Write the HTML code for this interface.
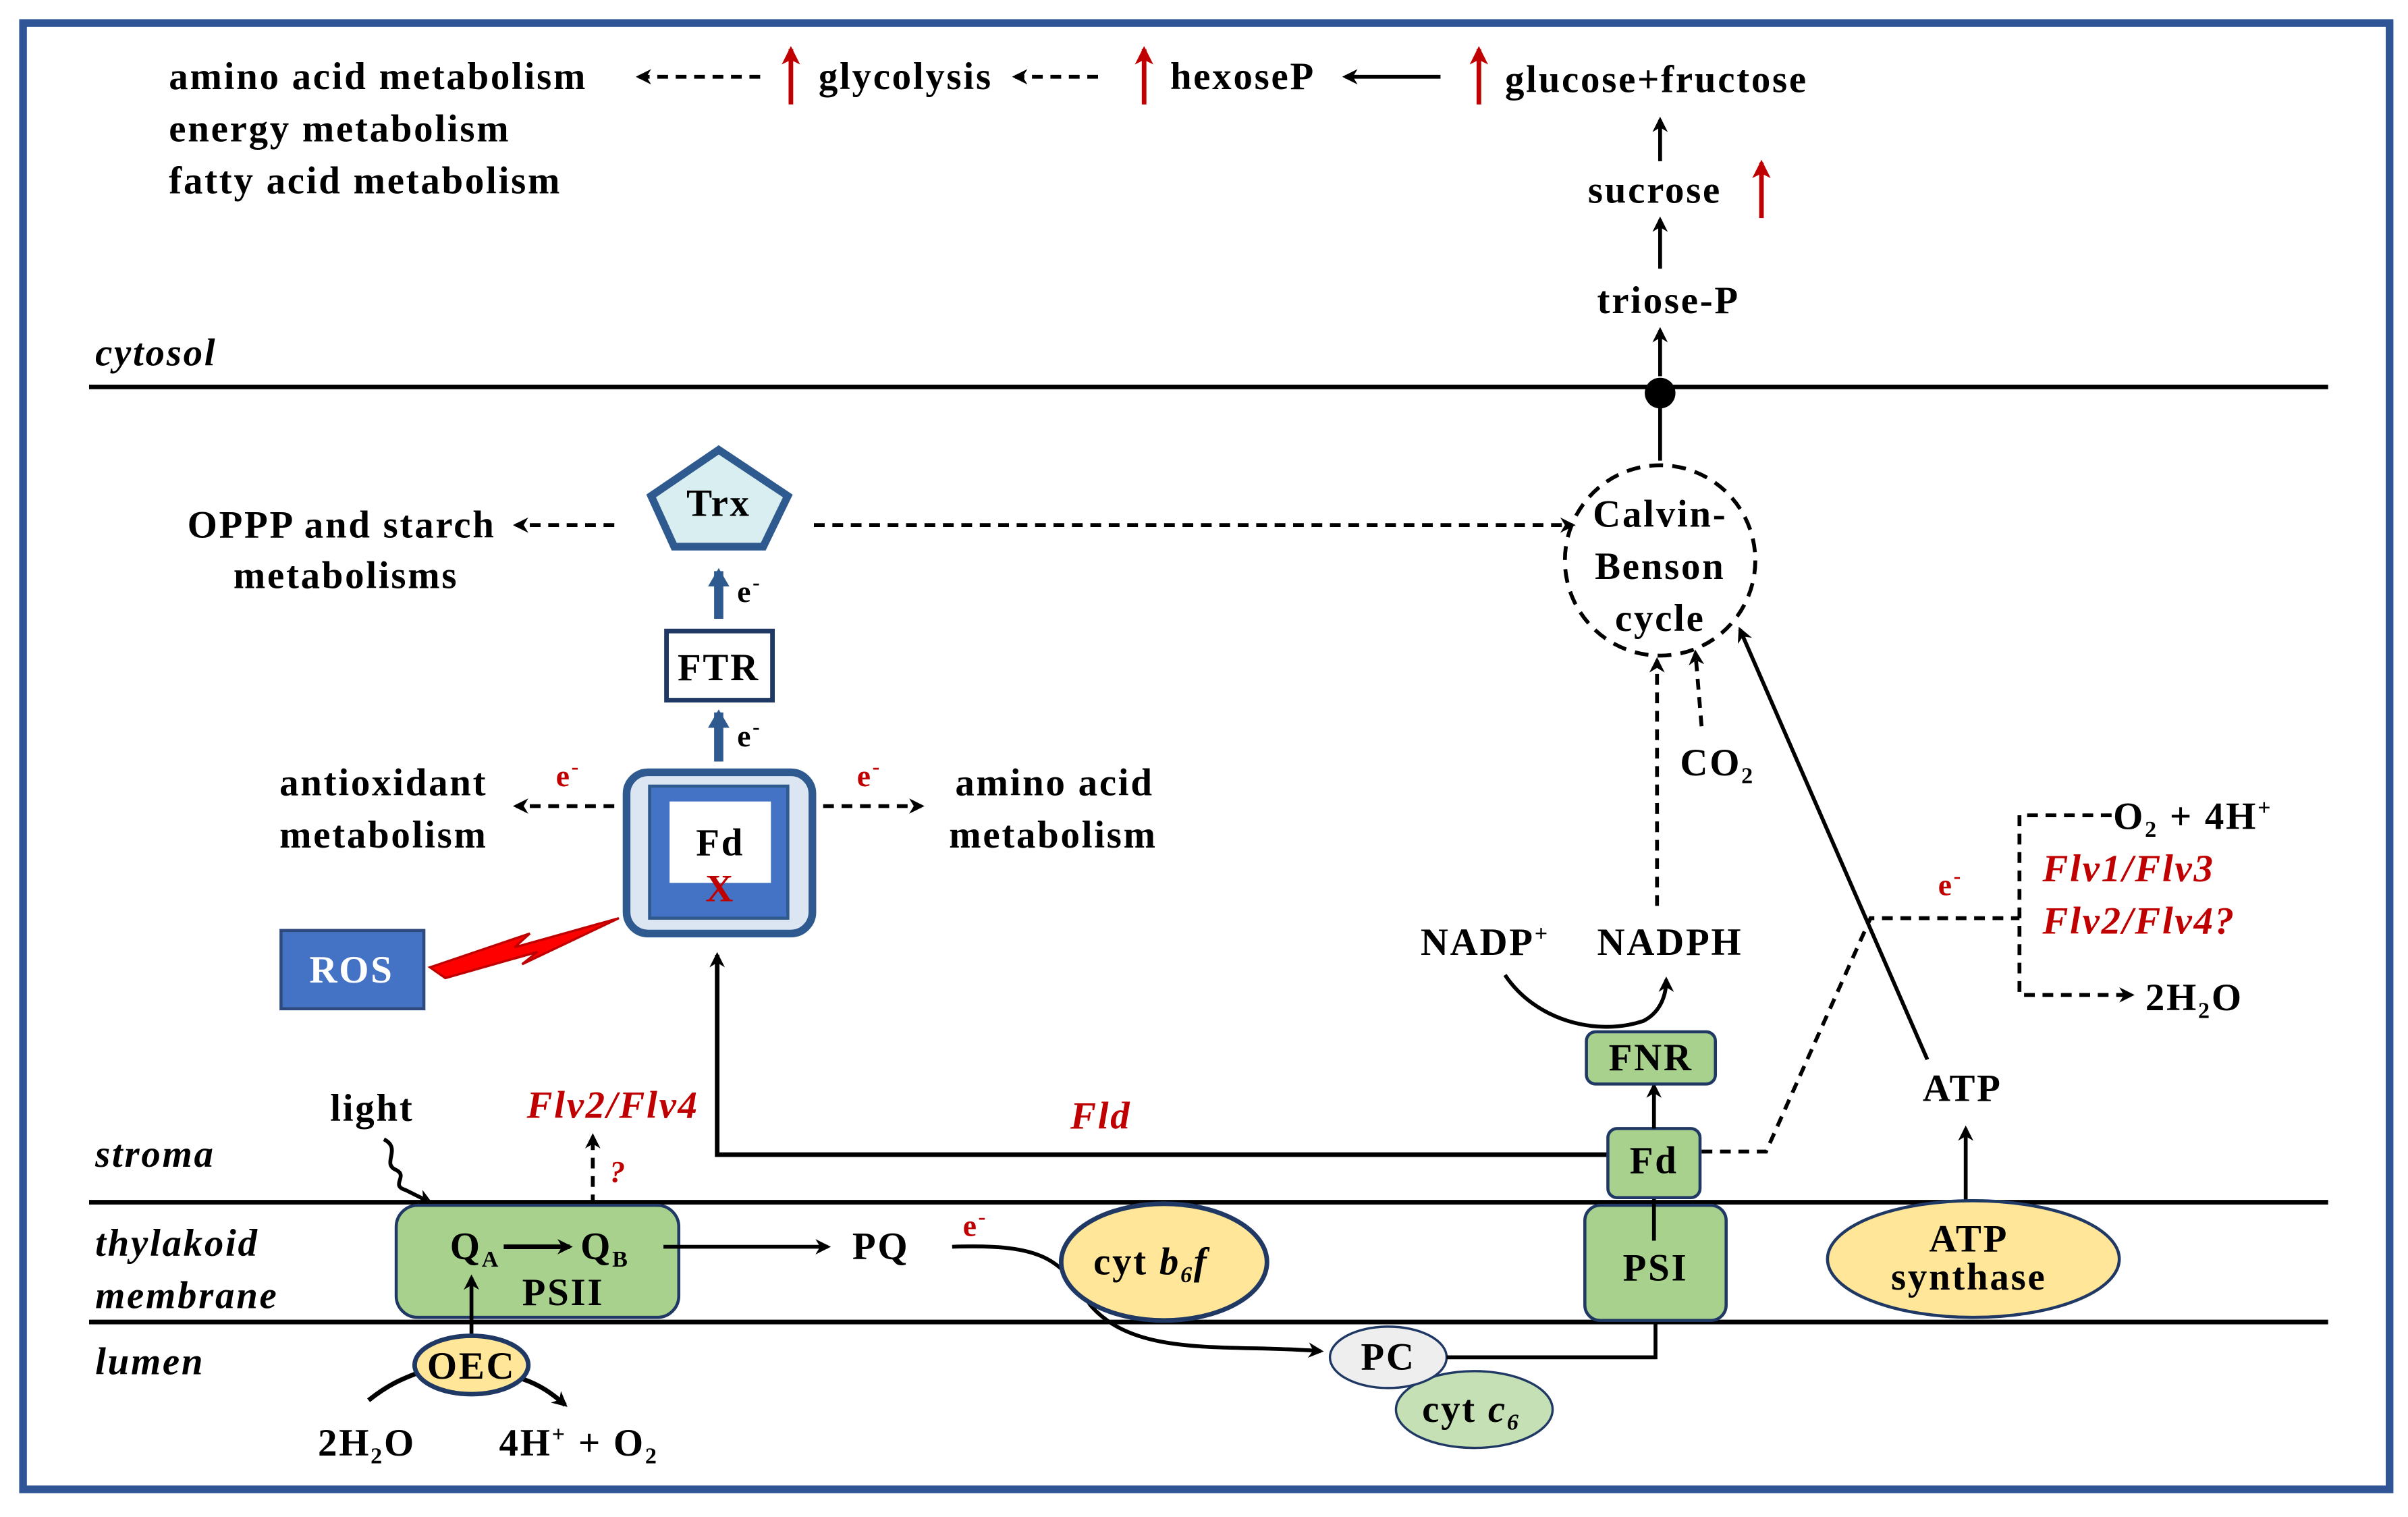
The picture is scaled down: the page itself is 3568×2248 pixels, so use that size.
<!DOCTYPE html>
<html><head><meta charset="utf-8"><style>
html,body{margin:0;padding:0;background:#fff;}
svg{display:block;}
text{font-family:"Liberation Serif",serif;font-weight:bold;font-size:25px;letter-spacing:1.2px;fill:#000;}
.i{font-style:italic;}
.r{fill:#c00000;}
</style></head><body>
<svg width="3568" height="2248" viewBox="0 0 1568 988" preserveAspectRatio="none" xmlns="http://www.w3.org/2000/svg">
<defs>
<marker id="a" markerWidth="10" markerHeight="10" refX="8" refY="5" orient="auto" markerUnits="userSpaceOnUse"><path d="M0,0 L10,5 L0,10 L3,5z" fill="#000"/></marker>
<marker id="ar" markerWidth="12" markerHeight="12" refX="10" refY="6" orient="auto" markerUnits="userSpaceOnUse"><path d="M0,0 L12,6 L0,12 L3,6z" fill="#c00000"/></marker>
<marker id="ab" markerWidth="14" markerHeight="14" refX="10" refY="7" orient="auto" markerUnits="userSpaceOnUse"><path d="M0,0 L12,7 L0,14z" fill="#2e5a8f"/></marker>
</defs>
<rect x="15" y="15" width="1541" height="955" fill="none" stroke="#2f5597" stroke-width="5"/>
<g stroke="#000" stroke-width="3">
<line x1="58" y1="252" x2="1516" y2="252"/>
<line x1="58" y1="783" x2="1516" y2="783"/>
<line x1="58" y1="861" x2="1516" y2="861"/>
</g>
<text class="i" x="62" y="238">cytosol</text>
<text class="i" x="62" y="760">stroma</text>
<text class="i" x="62" y="818">thylakoid</text>
<text class="i" x="62" y="852">membrane</text>
<text class="i" x="62" y="895">lumen</text>

<text x="110" y="58">amino acid metabolism</text>
<text x="110" y="92">energy metabolism</text>
<text x="110" y="126">fatty acid metabolism</text>
<g fill="none" stroke="#000" stroke-width="2.5">
<line x1="495" y1="50" x2="416" y2="50" stroke-dasharray="7,5" marker-end="url(#a)"/>
<line x1="715" y1="50" x2="661" y2="50" stroke-dasharray="7,5" marker-end="url(#a)"/>
<line x1="938" y1="50" x2="876" y2="50" marker-end="url(#a)"/>
<line x1="1081" y1="105" x2="1081" y2="78" marker-end="url(#a)"/>
<line x1="1081" y1="175" x2="1081" y2="143" marker-end="url(#a)"/>
<line x1="1081" y1="245" x2="1081" y2="215" marker-end="url(#a)"/>
<line x1="1081" y1="256" x2="1081" y2="300"/>
</g>
<g stroke="#c00000" stroke-width="3" fill="none">
<line x1="515" y1="68" x2="515" y2="32" marker-end="url(#ar)"/>
<line x1="745" y1="68" x2="745" y2="32" marker-end="url(#ar)"/>
<line x1="963" y1="68" x2="963" y2="32" marker-end="url(#ar)"/>
<line x1="1147" y1="142" x2="1147" y2="106" marker-end="url(#ar)"/>
</g>
<text x="533" y="58">glycolysis</text>
<text x="762" y="58">hexoseP</text>
<text x="980" y="60">glucose+fructose</text>
<text x="1034" y="132">sucrose</text>
<text x="1040" y="204">triose-P</text>
<circle cx="1081" cy="256" r="10" fill="#000"/>

<circle cx="1081" cy="365" r="62" fill="none" stroke="#000" stroke-width="2.5" stroke-dasharray="9,6"/>
<text x="1081" y="343" text-anchor="middle">Calvin-</text>
<text x="1081" y="377" text-anchor="middle">Benson</text>
<text x="1081" y="411" text-anchor="middle">cycle</text>

<polygon points="468,293 513,323 497,356 439,356 424,323" fill="#d8eef0" stroke="#2e5a8f" stroke-width="5"/>
<text x="468" y="336" text-anchor="middle">Trx</text>
<text x="122" y="350">OPPP and starch</text>
<text x="152" y="383">metabolisms</text>
<g fill="none" stroke="#000" stroke-width="2.5" stroke-dasharray="7,5">
<line x1="400" y1="342" x2="336" y2="342" marker-end="url(#a)"/>
<line x1="530" y1="342" x2="1024" y2="342" marker-end="url(#a)"/>
<line x1="400" y1="525" x2="336" y2="525" marker-end="url(#a)"/>
<line x1="536" y1="525" x2="600" y2="525" marker-end="url(#a)"/>
<line x1="1079" y1="590" x2="1079" y2="430" marker-end="url(#a)"/>
<line x1="1108" y1="473" x2="1104" y2="425" marker-end="url(#a)"/>
<line x1="386" y1="785" x2="386" y2="740" marker-end="url(#a)"/>
<polyline points="1108,750 1150,750 1218,598 1315,598"/>
<polyline points="1375,531 1315,531 1315,648 1388,648" marker-end="url(#a)"/>
</g>
<g stroke="#2e5a8f" stroke-width="6">
<line x1="468" y1="403" x2="468" y2="372" marker-end="url(#ab)"/>
<line x1="468" y1="496" x2="468" y2="464" marker-end="url(#ab)"/>
</g>
<text x="480" y="392" style="font-size:20px">e<tspan dy="-8" style="font-size:14px">-</tspan></text>
<text x="480" y="486" style="font-size:20px">e<tspan dy="-8" style="font-size:14px">-</tspan></text>
<rect x="434" y="411" width="69" height="45" fill="#fff" stroke="#1f3864" stroke-width="3"/>
<text x="468" y="443" text-anchor="middle">FTR</text>

<rect x="408" y="503" width="121" height="105" rx="14" fill="#dce6f2" stroke="#2e5a8f" stroke-width="5"/>
<rect x="423" y="512" width="90" height="86" fill="#4472c4" stroke="#2e5a8f" stroke-width="2"/>
<rect x="436" y="522" width="66" height="53" fill="#fff"/>
<text x="469" y="557" text-anchor="middle">Fd</text>
<text x="469" y="587" text-anchor="middle" class="r">X</text>
<text x="362" y="512" class="r" style="font-size:20px">e<tspan dy="-8" style="font-size:14px">-</tspan></text>
<text x="558" y="512" class="r" style="font-size:20px">e<tspan dy="-8" style="font-size:14px">-</tspan></text>
<text x="182" y="518">antioxidant</text>
<text x="182" y="552">metabolism</text>
<text x="622" y="518">amino acid</text>
<text x="618" y="552">metabolism</text>
<rect x="183" y="606" width="93" height="51" fill="#4472c4" stroke="#2e4a7f" stroke-width="2"/>
<text x="229" y="640" text-anchor="middle" style="fill:#fff">ROS</text>
<polygon points="280,630 345,608 335,617 403,598 340,628 350,620 290,637" fill="#ff0000" stroke="#c00000" stroke-width="1.5"/>

<polyline points="1047,752 467,752 467,622" fill="none" stroke="#000" stroke-width="3" marker-end="url(#a)"/>
<text x="697" y="735" class="i r">Fld</text>
<text x="215" y="730">light</text>
<path d="M250,742 C262,748 248,758 258,762 C266,766 254,772 264,775 L280,783" fill="none" stroke="#000" stroke-width="2.5" marker-end="url(#a)"/>
<text x="343" y="728" class="i r">Flv2/Flv4</text>
<text x="397" y="770" class="i r" style="font-size:20px">?</text>

<rect x="258" y="785" width="184" height="73" rx="14" fill="#a9d18e" stroke="#1f3864" stroke-width="2"/>
<text x="293" y="820">Q<tspan dy="5" style="font-size:15px">A</tspan></text>
<line x1="328" y1="812" x2="371" y2="812" stroke="#000" stroke-width="3" marker-end="url(#a)"/>
<text x="378" y="820">Q<tspan dy="5" style="font-size:15px">B</tspan></text>
<text x="340" y="850">PSII</text>
<line x1="432" y1="812" x2="539" y2="812" stroke="#000" stroke-width="2.5" marker-end="url(#a)"/>
<text x="555" y="820">PQ</text>
<text x="627" y="805" class="r" style="font-size:20px">e<tspan dy="-8" style="font-size:14px">-</tspan></text>
<line x1="307" y1="872" x2="307" y2="832" stroke="#000" stroke-width="2.5" marker-end="url(#a)"/>
<path d="M620,812 C680,810 690,820 710,850 C740,885 800,875 860,880" fill="none" stroke="#000" stroke-width="2.5" marker-end="url(#a)"/>
<ellipse cx="758" cy="822" rx="67" ry="38" fill="#ffe699" stroke="#1f3864" stroke-width="3"/>
<text x="712" y="830">cyt <tspan class="i">b</tspan><tspan dy="5" style="font-size:15px" class="i">6</tspan><tspan dy="-5" class="i">f</tspan></text>
<path d="M240,912 C255,900 265,897 275,893" fill="none" stroke="#000" stroke-width="3"/>
<path d="M340,898 C352,902 360,908 368,915" fill="none" stroke="#000" stroke-width="3" marker-end="url(#a)"/>
<ellipse cx="307" cy="889" rx="37" ry="19" fill="#ffe699" stroke="#1f3864" stroke-width="3"/>
<text x="307" y="898" text-anchor="middle">OEC</text>
<text x="207" y="948">2H<tspan dy="5" style="font-size:15px">2</tspan><tspan dy="-5">O</tspan></text>
<text x="325" y="948">4H<tspan dy="-9" style="font-size:15px">+</tspan><tspan dy="9"> + O</tspan><tspan dy="5" style="font-size:15px">2</tspan></text>

<ellipse cx="960" cy="918" rx="51" ry="25" fill="#c5e0b4" stroke="#1f3864" stroke-width="1.5"/>
<text x="926" y="926">cyt <tspan class="i">c</tspan><tspan dy="5" style="font-size:15px" class="i">6</tspan></text>
<ellipse cx="904" cy="884" rx="38" ry="20" fill="#eeeeee" stroke="#1f3864" stroke-width="1.5"/>
<text x="904" y="892" text-anchor="middle">PC</text>
<polyline points="942,884 1078,884 1078,846" fill="none" stroke="#000" stroke-width="2.5" marker-end="url(#a)"/>

<rect x="1032" y="785" width="92" height="75" rx="10" fill="#a9d18e" stroke="#1f3864" stroke-width="2"/>
<text x="1078" y="834" text-anchor="middle">PSI</text>
<line x1="1077" y1="808" x2="1077" y2="772" stroke="#000" stroke-width="2.5" marker-end="url(#a)"/>
<rect x="1047" y="735" width="60" height="45" rx="6" fill="#a9d18e" stroke="#1f3864" stroke-width="2"/>
<text x="1077" y="764" text-anchor="middle">Fd</text>
<line x1="1077" y1="735" x2="1077" y2="707" stroke="#000" stroke-width="2.5" marker-end="url(#a)"/>
<rect x="1033" y="672" width="84" height="34" rx="6" fill="#a9d18e" stroke="#1f3864" stroke-width="2"/>
<text x="1075" y="697" text-anchor="middle">FNR</text>
<text x="925" y="622">NADP<tspan dy="-9" style="font-size:15px">+</tspan></text>
<text x="1040" y="622">NADPH</text>
<path d="M980,635 C1000,665 1040,675 1070,665 C1080,660 1085,650 1085,638" fill="none" stroke="#000" stroke-width="2.5" marker-end="url(#a)"/>
<text x="1094" y="505">CO<tspan dy="5" style="font-size:15px">2</tspan></text>

<text x="1262" y="583" class="r" style="font-size:20px">e<tspan dy="-8" style="font-size:14px">-</tspan></text>
<text x="1376" y="540">O<tspan dy="5" style="font-size:15px">2</tspan><tspan dy="-5"> + 4H</tspan><tspan dy="-9" style="font-size:15px">+</tspan></text>
<text x="1330" y="574" class="i r">Flv1/Flv3</text>
<text x="1330" y="608" class="i r">Flv2/Flv4?</text>
<text x="1397" y="658">2H<tspan dy="5" style="font-size:15px">2</tspan><tspan dy="-5">O</tspan></text>

<line x1="1255" y1="690" x2="1133" y2="410" stroke="#000" stroke-width="2.5" marker-end="url(#a)"/>
<text x="1252" y="717">ATP</text>
<line x1="1280" y1="783" x2="1280" y2="735" stroke="#000" stroke-width="2.5" marker-end="url(#a)"/>
<ellipse cx="1285" cy="820" rx="95" ry="38" fill="#ffe699" stroke="#1f3864" stroke-width="2"/>
<text x="1282" y="815" text-anchor="middle">ATP</text>
<text x="1282" y="840" text-anchor="middle">synthase</text>
</svg>
</body></html>
